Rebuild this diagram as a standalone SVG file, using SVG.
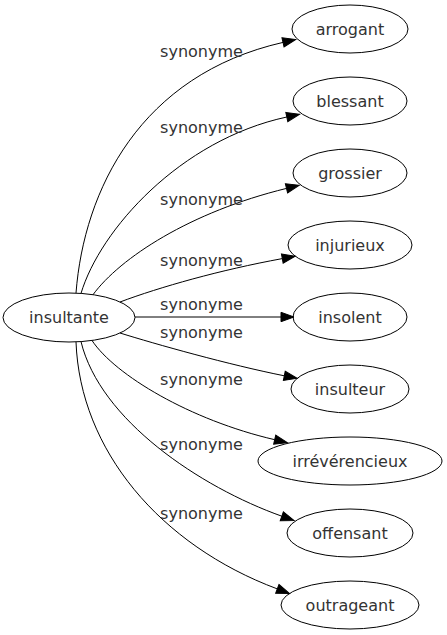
<svg xmlns="http://www.w3.org/2000/svg" width="447" height="635" viewBox="0 0 447 635">
<style>
  .node ellipse { fill: none; stroke: #000; stroke-width: 1; }
  .node text { font-family: "DejaVu Sans", "Liberation Sans", sans-serif; font-size: 16px; fill: #333; text-anchor: middle; }
  .edge path { fill: none; stroke: #000; stroke-width: 1; marker-end: url(#arrow); }
  .edge text { font-family: "DejaVu Sans", "Liberation Sans", sans-serif; font-size: 16px; fill: #333; text-anchor: middle; }
</style>
<defs>
  <marker id="arrow" markerUnits="userSpaceOnUse" markerWidth="14" markerHeight="10" refX="0" refY="4.7" orient="auto" overflow="visible">
    <path d="M0,0 L13,4.7 L0,9.4 Z" fill="#000" stroke="#000" stroke-width="1"/>
  </marker>
</defs>
<rect width="447" height="635" fill="#fff"/>
<g id="edges">
  <g class="edge" id="e-arrogant"><path d="M76,293 C84,190 140,75 283,42.4"/><text x="201.5" y="57">synonyme</text></g>
  <g class="edge" id="e-blessant"><path d="M81,293.4 C100,230 180,140 286.8,117"/><text x="201.5" y="133">synonyme</text></g>
  <g class="edge" id="e-grossier"><path d="M93,294.7 C120,258 190,212 286.5,188.4"/><text x="201.5" y="205">synonyme</text></g>
  <g class="edge" id="e-injurieux"><path d="M120,302 C160,287 220,270 282.3,258.6"/><text x="201.5" y="266">synonyme</text></g>
  <g class="edge" id="e-insolent"><path d="M135,317 L281,317"/><text x="201.5" y="310">synonyme</text></g>
  <g class="edge" id="e-insulteur"><path d="M120,333 C155,344 230,365 284.3,375.8"/><text x="201.5" y="338">synonyme</text></g>
  <g class="edge" id="e-irreverencieux"><path d="M92,340.5 C115,375 190,420 274.7,439.7"/><text x="201.5" y="385">synonyme</text></g>
  <g class="edge" id="e-offensant"><path d="M81,341.6 C100,420 200,487 281.8,516.2"/><text x="201.5" y="450">synonyme</text></g>
  <g class="edge" id="e-outrageant"><path d="M76,341.9 C80,450 160,545 277.3,588.9"/><text x="201.5" y="519">synonyme</text></g>
</g>
<g class="node" id="n-insultante"><ellipse cx="69" cy="317.5" rx="66" ry="24.5"/><text x="69" y="323">insultante</text></g>
<g class="node" id="n-arrogant"><ellipse cx="350" cy="29" rx="58" ry="24"/><text x="350" y="34.5">arrogant</text></g>
<g class="node" id="n-blessant"><ellipse cx="350" cy="101" rx="57" ry="24"/><text x="350" y="106.5">blessant</text></g>
<g class="node" id="n-grossier"><ellipse cx="350" cy="173" rx="57" ry="24"/><text x="350" y="178.5">grossier</text></g>
<g class="node" id="n-injurieux"><ellipse cx="350" cy="245" rx="62" ry="24"/><text x="350" y="250.5">injurieux</text></g>
<g class="node" id="n-insolent"><ellipse cx="350" cy="317" rx="57" ry="24"/><text x="350" y="322.5">insolent</text></g>
<g class="node" id="n-insulteur"><ellipse cx="350" cy="389" rx="59" ry="24"/><text x="350" y="394.5">insulteur</text></g>
<g class="node" id="n-irreverencieux"><ellipse cx="350" cy="461" rx="92" ry="24"/><text x="350" y="466.5">irrévérencieux</text></g>
<g class="node" id="n-offensant"><ellipse cx="350" cy="533" rx="63" ry="24"/><text x="350" y="538.5">offensant</text></g>
<g class="node" id="n-outrageant"><ellipse cx="350" cy="605" rx="69" ry="24"/><text x="350" y="610.5">outrageant</text></g>
</svg>
